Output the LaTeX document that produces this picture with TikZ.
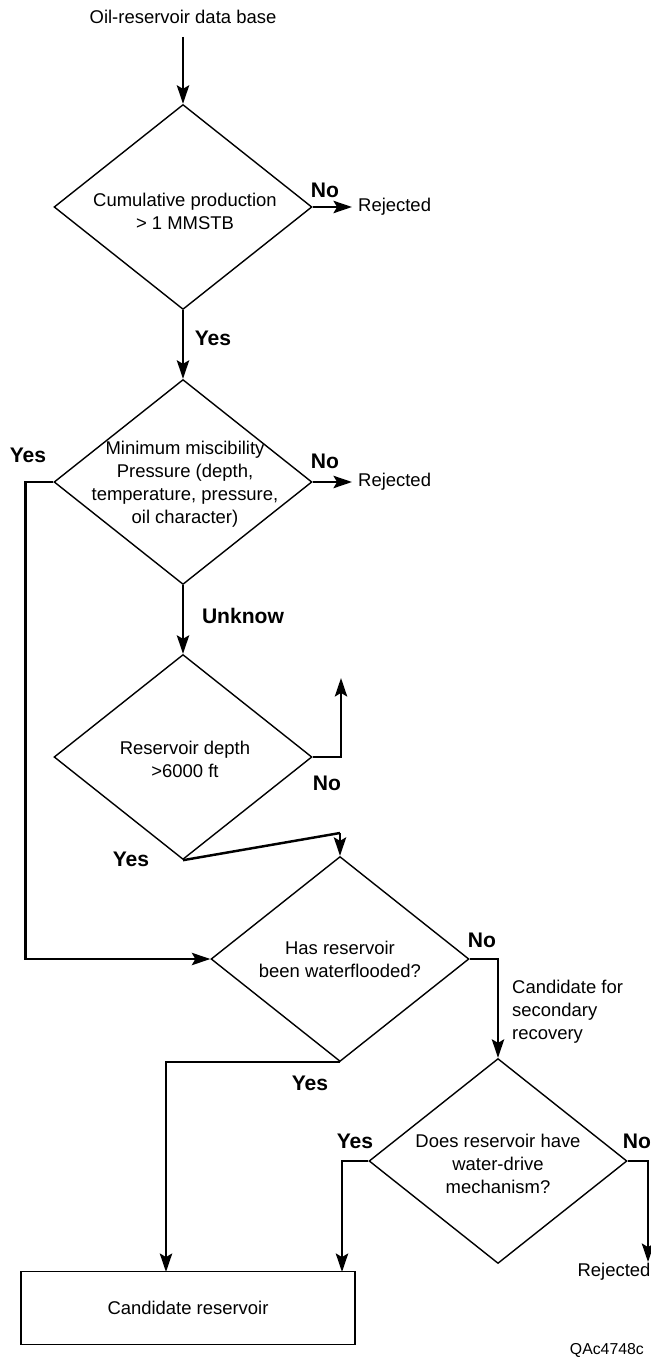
\documentclass[tikz,border=0pt]{standalone}
\usepackage{fontspec}
\setmainfont{Liberation Sans}
\usetikzlibrary{positioning,arrows.meta,shapes.geometric}

\begin{document}
\begin{tikzpicture}[x=0.02cm,y=-0.02cm,
	every node/.style={font=\fontsize{10.5}{13}\selectfont},
	decision/.style={draw,diamond,line width=0.8pt,minimum width=5.16cm,minimum height=4.1cm,inner sep=0pt},
	dtext/.style={align=center},
	answer/.style={font=\fontsize{12}{14}\selectfont\bfseries},
	conn/.style={line width=1.4pt,-{Stealth[length=10.5pt,width=7pt,inset=2pt]}},
	link/.style={line width=1.4pt}]
		
		\useasboundingbox (0,0) rectangle (651,1358);
		
		\node (base) at (183,17) {Oil-reservoir data base};
		
		\node[decision] (prod) at (183,207) {};
		\node[dtext] (prodtxt) at (185,211) {Cumulative production\\> 1 MMSTB};
		
		\node[decision] (mmp) at (183,482) {};
		\node[dtext] (mmptxt) at (185,484) {Minimum miscibility\\Pressure (depth,\\temperature, pressure,\\oil character)};
		
		\node[decision] (depth) at (183,757) {};
		\node[dtext] (depthtxt) at (185,759) {Reservoir depth\\>6000 ft};
		
		\node[decision] (flood) at (340,959) {};
		\node[dtext] (floodtxt) at (340,959) {Has reservoir\\been waterflooded?};
		
		\node[decision] (drive) at (498,1161) {};
		\node[dtext] (drivetxt) at (498,1164) {Does reservoir have\\water-drive\\mechanism?};
		
		\node[draw,line width=0.8pt,minimum width=6.68cm,minimum height=1.46cm] (cand) at (188,1308) {Candidate reservoir};
		
		\node[anchor=west] (rej1) at (352,207) {Rejected};
		\node[anchor=west] (rej2) at (352,482) {Rejected};
		\node (rej3) at (614,1272) {Rejected};
		
		\node[anchor=west,align=left] (second) at (506,1012) {Candidate for\\secondary\\recovery};
		
		\node[anchor=east,font=\fontsize{9}{11}\selectfont] (code) at (650,1350) {QAc4748c};
		
		\node[answer] (no1) at (325,190) {No};
		\node[answer] (yes1) at (213,338) {Yes};
		\node[answer] (yes2) at (28,455) {Yes};
		\node[answer] (no2) at (325,461) {No};
		\node[answer] (unk) at (243,616) {Unknow};
		\node[answer] (no3) at (327,783) {No};
		\node[answer] (yes3) at (131,859) {Yes};
		\node[answer] (no4) at (482,940) {No};
		\node[answer] (yes4) at (310,1083) {Yes};
		\node[answer] (yes5) at (355,1141) {Yes};
		\node[answer] (no5) at (637,1141) {No};
		
		\coordinate (up3) at (341,678);
		\coordinate (kink3) at (340,833);
		\coordinate (in1) at (166,1272);
		\coordinate (in2) at (342,1272);
		\coordinate (down5) at (648,1262);
		
		\draw[conn] (base.south) ++(0,7) -- (prod.north);
		\draw[conn] (prod.east) -- (rej1.west);
		\draw[conn] (prod.south) -- (mmp.north);
		
		\draw[conn] (mmp.east) -- (rej2.west);
		\draw[conn] (mmp.south) -- (depth.north);
		\draw[conn] (mmp.west) -- ++(-28,0) |- (flood.west);
		
		\draw[conn] (depth.east) -| (up3);
		\draw[link] (depth.south) -- (kink3);
		\draw[conn] (kink3) -- (flood.north);
		
		\draw[conn] (flood.east) -| (drive.north);
		\draw[conn] (flood.south) -| (in1);
		
		\draw[conn] (drive.west) -| (in2);
		\draw[conn] (drive.east) -| (down5);
		
	\end{tikzpicture}
\end{document}
